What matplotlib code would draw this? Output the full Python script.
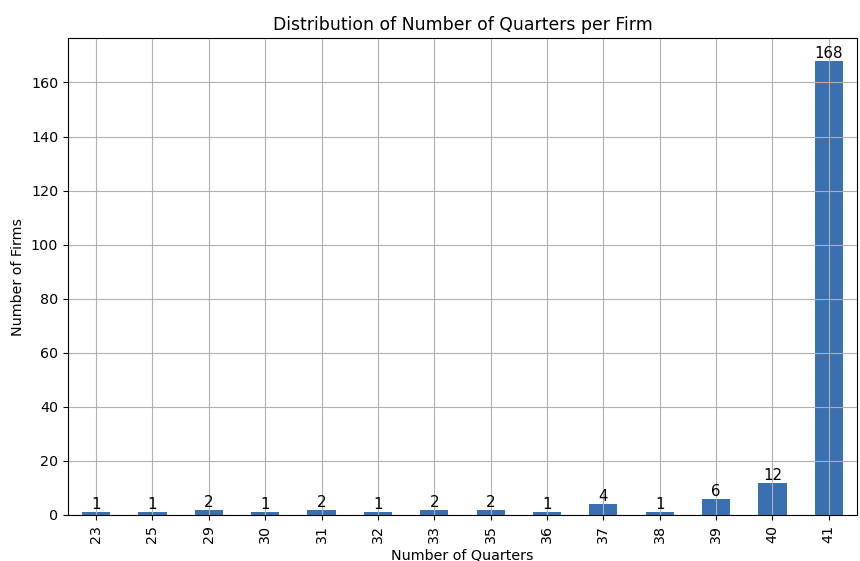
import matplotlib
matplotlib.use("Agg")
import matplotlib.pyplot as plt

# Counts of firms per number of quarters
quarters = [23, 25, 29, 30, 31, 32, 33, 35, 36, 37, 38, 39, 40, 41]
firms = [1, 1, 2, 1, 2, 1, 2, 2, 1, 4, 1, 6, 12, 168]

plt.rcParams["font.size"] = 10.3

fig = plt.figure(figsize=(8.6, 5.61), dpi=100)
ax = fig.add_axes([0.079, 0.082, 0.9175, 0.85])

pos = range(len(quarters))
bars = ax.bar(pos, firms, width=0.5, color="#3a70b0")
ax.bar_label(bars, fontsize=10.8)

ax.set_xticks(list(pos))
ax.set_xticklabels([str(q) for q in quarters], rotation=90)
ax.set_xlim(-0.5, len(quarters) - 0.5)
ax.set_ylim(0, 176.4)
ax.grid(True)

ax.set_title("Distribution of Number of Quarters per Firm", fontsize=12.4)
ax.set_xlabel("Number of Quarters")
ax.set_ylabel("Number of Firms")

fig.savefig("out.png", dpi=100)
